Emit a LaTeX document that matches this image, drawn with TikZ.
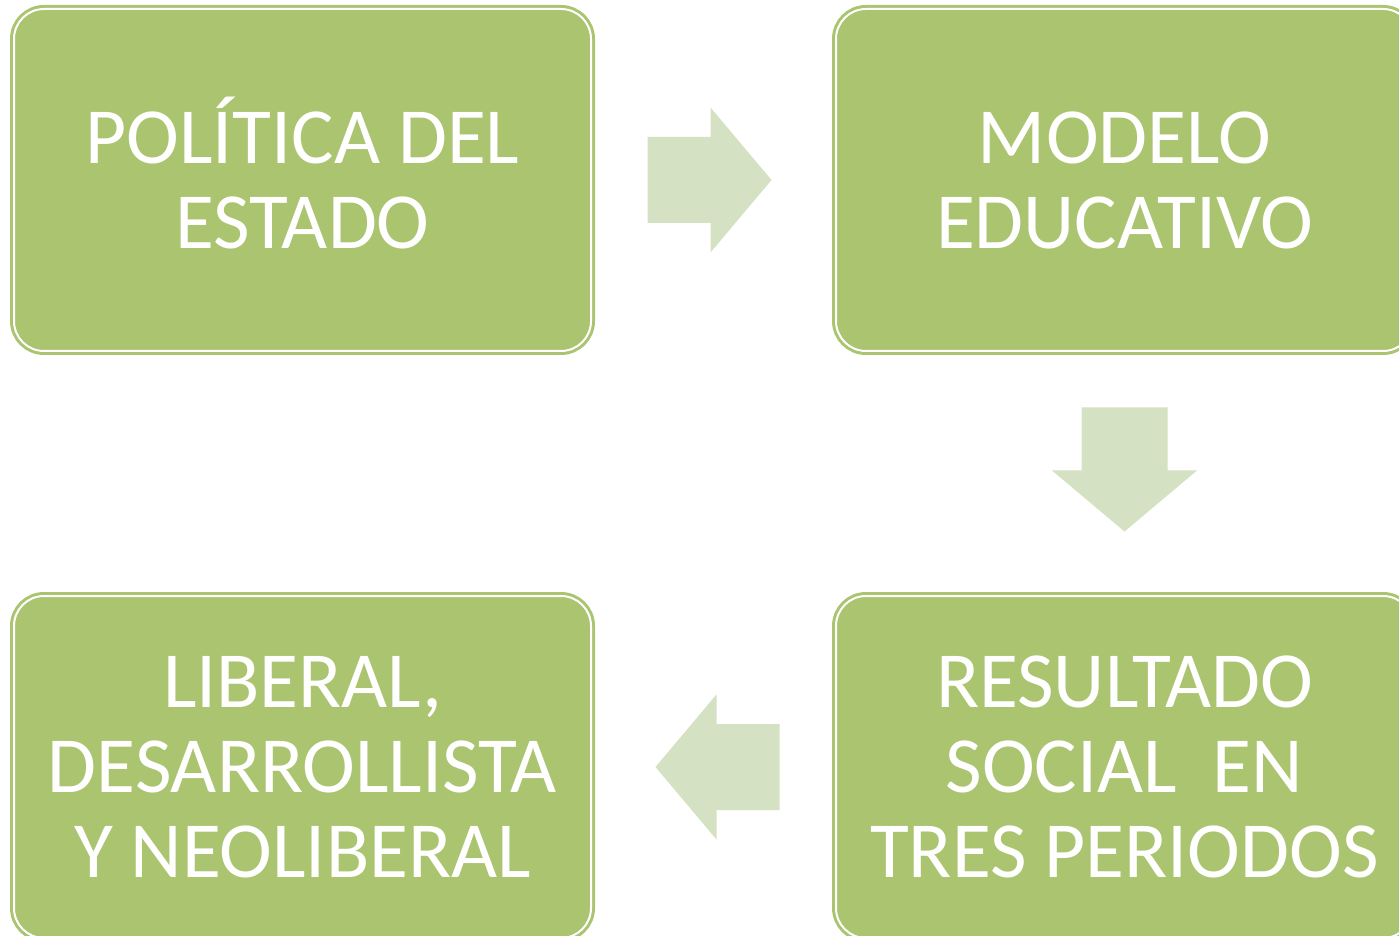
\documentclass[tikz,border=0pt]{standalone}
\usepackage{fontspec}
\setmainfont{Carlito}
\usepackage{xcolor}
\usetikzlibrary{calc}
\definecolor{boxgreen}{RGB}{171,196,112}
\definecolor{arrowgreen}{RGB}{212,225,194}

\begin{document}
\begin{tikzpicture}[x=0.5pt, y=-0.5pt,
        every node/.style={rectangle, rounded corners=15pt, fill=boxgreen, draw=boxgreen,
            double=white, double distance=1pt, line width=1.5pt, inner sep=0pt,
            minimum width=288.5pt, minimum height=171pt, align=center, text=white,
            font=\fontsize{39.8}{42.5}\selectfont},
        flow/.style={fill=arrowgreen}]
        \useasboundingbox (0,0) rectangle (1399,936);
        \clip (0,0) rectangle (1399,936);
        % Nodes
        \node (politica) at (302.5,180) {POL\smash{Í}TICA DEL\\ESTADO};
        \node (modelo) at (1124.5,180) {MODELO\\EDUCATIVO};
        \node (resultado) at (1124.5,767) {RESULTADO\\SOCIAL\ \ EN\\TRES PERIODOS};
        \node (liberal) at (302.5,767) {LIBERAL,\\DESARROLLISTA\\Y NEOLIBERAL};
        % Arrows
        \coordinate (pm) at ($(politica.east)!0.5!(modelo.west)$);
        \coordinate (mr) at ($(modelo.south)!0.5!(resultado.north)$);
        \coordinate (rl) at ($(resultado.west)!0.5!(liberal.east)$);
        \fill[flow, shift={(pm)}] (-66,-43) -- (-3,-43) -- (-3,-72.5) -- (58,0)
            -- (-3,72.5) -- (-3,43) -- (-66,43) -- cycle;
        \fill[flow, shift={(mr)}, rotate=-90] (-66,-43) -- (-3,-43) -- (-3,-72.5) -- (58,0)
            -- (-3,72.5) -- (-3,43) -- (-66,43) -- cycle;
        \fill[flow, shift={(rl)}, rotate=180] (-66,-43) -- (-3,-43) -- (-3,-72.5) -- (58,0)
            -- (-3,72.5) -- (-3,43) -- (-66,43) -- cycle;
    \end{tikzpicture}
\end{document}
